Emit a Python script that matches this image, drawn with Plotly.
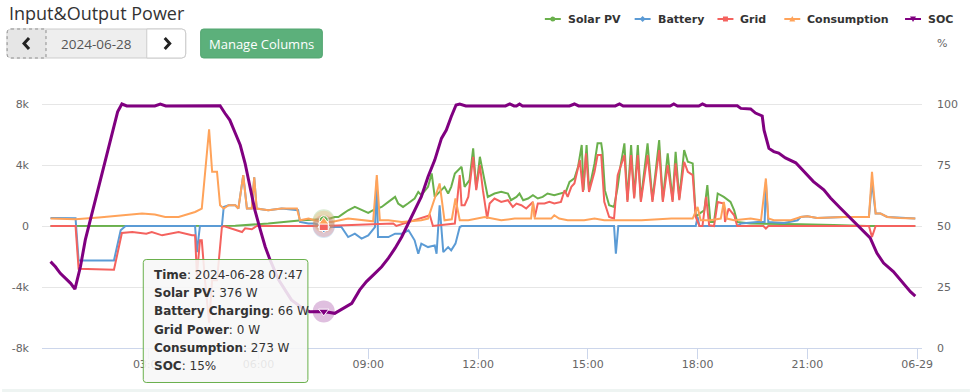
import numpy as np
import pandas as pd
import plotly.graph_objects as go

DATE = "2024-06-28"
TITLE = "Input&Output Power"
BUTTON_TEXT = "Manage Columns"

# ---- data (minutes after midnight, values) ----
SOLAR_MIN = [19, 300, 322, 376, 431, 458, 467, 485, 491, 499, 507, 518, 529, 540, 548, 562, 573, 584, 589, 597,
             605, 616, 622, 627, 638, 644, 649, 655, 665, 671, 676, 682, 693, 698, 706, 712, 717, 723, 730, 736,
             747, 758, 769, 774, 783, 788, 794, 802, 810, 818, 826, 834, 845, 856, 864, 870, 878, 884, 890, 893,
             898, 902, 911, 916, 922, 924, 928, 935, 943, 949, 953, 960, 965, 971, 976, 982, 987, 998, 1006, 1017,
             1023, 1031, 1039, 1044, 1050, 1058, 1064, 1072, 1077, 1083, 1091, 1096, 1101, 1107, 1113, 1123, 1134,
             1140, 1145, 1167, 1222, 1249, 1303, 1358, 1437]
SOLAR_W = [0, 0, 20, 158, 375, 420, 376, 592, 592, 816, 1033, 1250, 1033, 855, 1033, 1250, 1579, 1908, 1474, 1250,
           1474, 1803, 2237, 2020, 2566, 3448, 1908, 2132, 2566, 2132, 2566, 3448, 3882, 2566, 3007, 5093, 2461, 4540, 3224, 1908,
           2132, 2237, 2132, 1691, 1908, 2132, 1691, 1803, 2020, 1803, 1908, 2132, 2020, 2132, 2237, 2895, 3119, 3882, 5310, 2349,
           5310, 2349, 4106, 5422, 5422, 4869, 2349, 1362, 1250, 2566, 3777, 5422, 1691, 5310, 1908, 5310, 1691, 5422, 1691, 5639,
           1691, 4764, 1691, 4869, 1803, 4981, 4211, 4106, 592, 816, 1033, 2678, 263, 263, 2132, 1908, 1579,
           1033, 263, 158, 158, 112, 66, 0, 0]

BATTERY_MIN = [19, 60, 65, 123, 134, 142, 256, 259, 264, 300, 303, 311, 322, 327, 335, 341, 349, 353, 357, 376,
               398, 425, 428, 442, 452, 467, 480, 496, 507, 518, 529, 540, 551, 554, 556, 573, 584, 595, 606, 616,
               622, 627, 638, 649, 652, 657, 663, 671, 676, 683, 690, 693, 943, 946, 950, 1077, 1080, 1083, 1145, 1151,
               1178, 1190, 1192, 1196, 1222, 1244, 1249, 1260, 1276, 1320, 1361, 1366, 1372, 1380, 1391, 1412, 1437]
BATTERY_W = [526, 507, -2257, -2257, -283, 0, 0, -1711, 0, 0, 1250, 1362, 1362, 1145, 3336, 1145, 1145, 3185, 1145, 1033,
             1145, 1033, 263, 158, 158, -66, -66, -66, -724, -500, -829, -612, -66, 3000, -724, -724, -500, -500, -283, -941,
             -1816, -1158, -1382, -1270, -1816, 1362, -1711, -1382, -1599, -1158, -66, 0, 0, -1816, 0, 0, 592, 0, 0, 158,
             263, 263, 2900, 263, 197, 375, 592, 638, 526, 592, 592, 2900, 816, 816, 592, 526, 487]

GRID_MIN = [19, 60, 65, 123, 136, 153, 176, 185, 202, 229, 251, 256, 259, 264, 267, 272, 279, 284, 292, 300,
            303, 333, 338, 349, 357, 467, 581, 586, 641, 646, 682, 690, 693, 698, 704, 712, 717, 723, 728, 735,
            739, 747, 758, 769, 777, 783, 791, 799, 810, 813, 818, 829, 837, 845, 856, 862, 867, 873, 878, 887,
            892, 897, 902, 911, 916, 922, 927, 935, 943, 949, 960, 965, 971, 976, 982, 987, 998, 1006, 1017, 1023,
            1031, 1039, 1044, 1050, 1058, 1064, 1072, 1077, 1083, 1088, 1094, 1099, 1107, 1113, 1123, 1125, 1131,
            1140, 1145, 1188, 1192, 1196, 1361, 1366, 1372, 1437]
GRID_W = [0, 0, -2803, -2869, -460, -395, -500, -395, -612, -395, -612, -612, -3244, -941, -941, -3448, -6337, -3553, -3553, -66,
          0, -395, -150, -217, 0, 0, 158, 0, 704, 0, 158, 3336, 1362, 1362, 1908, 4540, 2349, 3994, 2349, 487,
          1474, 1803, 1579, 1691, 1250, 1474, 1362, 1145, 1579, 592, 1474, 1474, 1579, 1474, 1579, 2349, 1908, 2566, 2790, 4323,
          2237, 4764, 2237, 3553, 4652, 4652, 1579, 592, 487, 3336, 4652, 1579, 4652, 1803, 4652, 1579, 4652, 1579, 4981, 1579,
          3994, 1579, 4106, 1691, 4211, 3553, 3336, 592, 0, 0, 1908, 46, 0, 1579, 1474, 263, 1145,
          704, 0, 0, -171, 0, 0, -724, 0, 0]

CONS_MIN = [19, 60, 98, 141, 169, 190, 207, 229, 256, 267, 272, 279, 284, 292, 297, 303, 311, 322, 327, 335,
            341, 349, 353, 357, 376, 398, 423, 428, 442, 452, 467, 480, 507, 534, 548, 554, 559, 573, 595, 627,
            638, 657, 665, 677, 683, 690, 704, 731, 758, 780, 807, 810, 813, 840, 845, 853, 867, 894, 911, 927,
            943, 988, 1037, 1072, 1080, 1085, 1101, 1118, 1123, 1128, 1140, 1167, 1184, 1192, 1196, 1205, 1233, 1249,
            1260, 1276, 1320, 1361, 1366, 1372, 1380, 1391, 1412, 1437]
CONS_W = [487, 441, 553, 704, 816, 750, 592, 592, 921, 1145, 3448, 6343, 3553, 3553, 1362, 1145, 1362, 1362, 1145, 3336,
          1145, 1145, 3185, 1145, 1033, 1145, 1145, 375, 487, 375, 273, 263, 487, 375, 309, 3336, 375, 375, 263, 375,
          487, 2790, 375, 441, 1803, 375, 375, 592, 375, 487, 487, 1579, 487, 487, 704, 487, 375, 375, 487, 375,
          375, 375, 487, 487, 1250, 375, 375, 487, 1579, 487, 375, 487, 375, 3119, 487, 375, 375, 592,
          638, 526, 592, 592, 3553, 816, 816, 592, 526, 487]

SOC_MIN = [19, 27, 35, 44, 52, 59, 68, 76, 87, 98, 109, 120, 129, 136, 144, 190, 199, 208, 297, 305,
           313, 322, 330, 338, 346, 354, 363, 371, 379, 393, 414, 436, 444, 453, 467, 485, 499, 513, 526, 537,
           551, 562, 573, 584, 595, 606, 616, 627, 638, 649, 660, 668, 676, 684, 690, 700, 765, 772, 779, 783,
           788, 793, 870, 878, 885, 945, 952, 958, 1035, 1041, 1047, 1082, 1088, 1094, 1145, 1151, 1167, 1175, 1186, 1189,
           1197, 1205, 1213, 1224, 1241, 1249, 1260, 1270, 1287, 1298, 1314, 1327, 1342, 1363, 1374, 1385, 1401, 1417,
           1429, 1437]
SOC_PCT = [35.4, 33.3, 30.6, 28.6, 26.5, 24.1, 33.3, 44.3, 55.2, 66.1, 77.0, 88.0, 96.8, 100, 99.2, 99.2, 100, 99.2, 99.3, 96.2,
           93.4, 88.0, 83.2, 75.7, 66.1, 56.6, 48.4, 41.5, 36.1, 27.9, 19.7, 15.6, 14.9, 15.0, 15.0, 14.2, 16.3, 18.3, 23.8, 27.2,
           30.6, 33.3, 36.8, 40.9, 45.6, 51.1, 56.6, 62.0, 70.2, 77.0, 85.9, 89.3, 94.8, 99.6, 100, 99.2, 99.2, 100, 99.2, 99.2,
           100, 99.2, 99.2, 100, 99.2, 99.2, 100, 99.2, 99.2, 100, 99.2, 99.2, 100, 99.3, 99.3, 98.2, 98.0, 96.3, 95.1, 89.3,
           81.8, 80.5, 79.9, 77.9, 75.9, 73.8, 70.5, 68.2, 64.8, 61.5, 57.4, 54.1, 50.4, 45.1, 38.9, 34.8, 31.3, 26.6,
           23.1, 21.3]

SERIES_NAMES = ["Solar PV", "Battery", "Grid", "Consumption", "SOC"]
COLORS = ["#6ab04c", "#5b9bd5", "#f4625e", "#ffa35a", "#800080"]
SYMBOLS = ["circle", "diamond", "square", "triangle-up", "triangle-down"]

X_RANGE_MIN = [5, 1448]
X_TICK_MIN = [180, 360, 540, 720, 900, 1080, 1260, 1440]
X_TICK_TEXT = ["03:00", "06:00", "09:00", "12:00", "15:00", "18:00", "21:00", "06-29"]
Y_TICKS = [-8000, -4000, 0, 4000, 8000, 12000]
Y_TICK_TEXT = ["-8k", "-4k", "0", "4k", "8k", ""]
Y2_TICKS = [0, 25, 50, 75, 100, 125]
Y2_TICK_TEXT = ["0", "25", "50", "75", "100", "%"]

HOVER_MIN = 467

base = pd.Timestamp(DATE)


def t(mins):
    return [base + pd.Timedelta(minutes=float(m)) for m in mins]


# ---- pixel layout helpers (layout only) ----
W, H = 970, 392
PL, PR, PT, PB = 40, 922, 43, 348


def px(x):
    return (x - PL) / (PR - PL)


def py(y):
    return (PB - y) / (PB - PT)


def P(x, y):
    return f"{px(x):.5f},{py(y):.5f}"


def rpath(x0, y0, x1, y1, rl, rr):
    return (f"M{P(x0 + rl, y0)} L{P(x1 - rr, y0)} Q{P(x1, y0)} {P(x1, y0 + rr)} "
            f"L{P(x1, y1 - rr)} Q{P(x1, y1)} {P(x1 - rr, y1)} L{P(x0 + rl, y1)} "
            f"Q{P(x0, y1)} {P(x0, y1 - rl)} L{P(x0, y0 + rl)} Q{P(x0, y0)} {P(x0 + rl, y0)} Z")


fig = go.Figure()

series = [(SOLAR_MIN, SOLAR_W), (BATTERY_MIN, BATTERY_W), (GRID_MIN, GRID_W), (CONS_MIN, CONS_W)]
for (mins, vals), name, col in zip(series, SERIES_NAMES[:4], COLORS[:4]):
    fig.add_trace(go.Scatter(x=t(mins), y=vals, mode="lines", name=name,
                             line=dict(color=col, width=2), hoverinfo="skip"))
fig.add_trace(go.Scatter(x=t(SOC_MIN), y=SOC_PCT, mode="lines", name="SOC", yaxis="y2",
                         line=dict(color=COLORS[4], width=3), hoverinfo="skip"))

# hovered point values
hv = [float(np.interp(HOVER_MIN, m, v)) for m, v in series]
hsoc = float(np.interp(HOVER_MIN, SOC_MIN, SOC_PCT))
ht = t([HOVER_MIN])
for v, col in zip(hv, COLORS[:4]):
    fig.add_trace(go.Scatter(x=ht, y=[v], mode="markers", showlegend=False, hoverinfo="skip",
                             marker=dict(size=22, color=col, opacity=0.25, line=dict(width=0))))
fig.add_trace(go.Scatter(x=ht, y=[hsoc], yaxis="y2", mode="markers", showlegend=False, hoverinfo="skip",
                         marker=dict(size=22, color=COLORS[4], opacity=0.25, line=dict(width=0))))
for v, col, sym in zip(hv, COLORS[:4], SYMBOLS[:4]):
    fig.add_trace(go.Scatter(x=ht, y=[v], mode="markers", showlegend=False, hoverinfo="skip",
                             marker=dict(size=9, color=col, symbol=sym, line=dict(width=1, color="white"))))
fig.add_trace(go.Scatter(x=ht, y=[hsoc], yaxis="y2", mode="markers", showlegend=False, hoverinfo="skip",
                         marker=dict(size=9, color=COLORS[4], symbol=SYMBOLS[4], line=dict(width=1, color="white"))))

shapes = []
annotations = []
FONT = "DejaVu Sans"

# title
annotations.append(dict(x=px(5), y=py(13), xref="paper", yref="paper", xanchor="left", yanchor="middle",
                        text=TITLE, showarrow=False, font=dict(family="Open Sans", size=18, color="#333")))

# date picker
shapes.append(dict(type="path", path=rpath(5, 29, 184, 58, 4, 4), xref="paper", yref="paper",
                   fillcolor="#eeeeee", line=dict(color="#cccccc", width=1), layer="above"))
shapes.append(dict(type="path", path=rpath(5, 29, 44, 58, 4, 0), xref="paper", yref="paper",
                   fillcolor="#e6e6e6", line=dict(color="#8c8c8c", width=1, dash="dot"), layer="above"))
shapes.append(dict(type="path", path=rpath(145, 29, 184, 58, 0, 4), xref="paper", yref="paper",
                   fillcolor="#ffffff", line=dict(color="#cccccc", width=1), layer="above"))
shapes.append(dict(type="path", path=f"M{P(27, 38)} L{P(22, 43.5)} L{P(27, 49)}", xref="paper", yref="paper",
                   line=dict(color="#222", width=3), layer="above"))
shapes.append(dict(type="path", path=f"M{P(163, 38)} L{P(168, 43.5)} L{P(163, 49)}", xref="paper", yref="paper",
                   line=dict(color="#222", width=3), layer="above"))
annotations.append(dict(x=px(94.5), y=py(44), xref="paper", yref="paper", xanchor="center", yanchor="middle",
                        text=DATE, showarrow=False, font=dict(family="Open Sans", size=13.5, color="#555")))
# manage columns button
shapes.append(dict(type="path", path=rpath(199, 29, 321, 58, 3, 3), xref="paper", yref="paper",
                   fillcolor="#5cb07b", line=dict(color="#52a570", width=1), layer="above"))
annotations.append(dict(x=px(260), y=py(44), xref="paper", yref="paper", xanchor="center", yanchor="middle",
                        text=BUTTON_TEXT, showarrow=False, font=dict(family="Open Sans", size=13, color="white")))

# legend
LEG_X = [544, 634, 717, 784, 905]
LEG_Y = 19
for name, col, sym, lx in zip(SERIES_NAMES, COLORS, SYMBOLS, LEG_X):
    shapes.append(dict(type="line", x0=px(lx), x1=px(lx + 16), y0=py(LEG_Y), y1=py(LEG_Y), xref="paper",
                       yref="paper", line=dict(color=col, width=2), layer="above"))
    cx = lx + 8
    r = 2.5
    if sym == "circle":
        shapes.append(dict(type="circle", x0=px(cx - r), x1=px(cx + r), y0=py(LEG_Y - r), y1=py(LEG_Y + r),
                           xref="paper", yref="paper", fillcolor=col, line=dict(width=0), layer="above"))
    elif sym == "square":
        shapes.append(dict(type="rect", x0=px(cx - r), x1=px(cx + r), y0=py(LEG_Y - r), y1=py(LEG_Y + r),
                           xref="paper", yref="paper", fillcolor=col, line=dict(width=0), layer="above"))
    elif sym == "diamond":
        shapes.append(dict(type="path", path=f"M{P(cx, LEG_Y - 3)} L{P(cx + 3, LEG_Y)} L{P(cx, LEG_Y + 3)} L{P(cx - 3, LEG_Y)} Z",
                           xref="paper", yref="paper", fillcolor=col, line=dict(width=0), layer="above"))
    elif sym == "triangle-up":
        shapes.append(dict(type="path", path=f"M{P(cx, LEG_Y - 3)} L{P(cx + 3, LEG_Y + 2.5)} L{P(cx - 3, LEG_Y + 2.5)} Z",
                           xref="paper", yref="paper", fillcolor=col, line=dict(width=0), layer="above"))
    else:
        shapes.append(dict(type="path", path=f"M{P(cx, LEG_Y + 3)} L{P(cx + 3, LEG_Y - 2.5)} L{P(cx - 3, LEG_Y - 2.5)} Z",
                           xref="paper", yref="paper", fillcolor=col, line=dict(width=0), layer="above"))
    annotations.append(dict(x=px(lx + 21), y=py(LEG_Y), xref="paper", yref="paper", xanchor="left",
                            yanchor="middle", text=f"<b>{name}</b>", showarrow=False,
                            font=dict(family=FONT, size=11, color="#333")))

# tooltip
shapes.append(dict(type="path", path=rpath(141.5, 259.5, 306.5, 382.5, 3, 3), xref="paper", yref="paper",
                   fillcolor="rgba(247,247,247,0.88)", line=dict(color=COLORS[0], width=1), layer="above"))
bat = hv[1]
tip_lines = [
    ("Time", f"{DATE} {HOVER_MIN // 60:02d}:{HOVER_MIN % 60:02d}"),
    (SERIES_NAMES[0], f"{hv[0]:.0f} W"),
    ("Battery Charging" if bat < 0 else "Battery Discharging", f"{abs(bat):.0f} W"),
    ("Grid Power", f"{abs(hv[2]):.0f} W"),
    (SERIES_NAMES[3], f"{hv[3]:.0f} W"),
    (SERIES_NAMES[4], f"{hsoc:.0f}%"),
]
for i, (k, v) in enumerate(tip_lines):
    annotations.append(dict(x=px(150), y=py(275 + 18.2 * i), xref="paper", yref="paper", xanchor="left",
                            yanchor="middle", text=f"<b>{k}</b>: {v}", showarrow=False,
                            font=dict(family=FONT, size=12, color="#333")))

# bottom strip
shapes.append(dict(type="rect", x0=px(0), x1=px(W), y0=py(389), y1=py(392), xref="paper", yref="paper",
                   fillcolor="#eef4f2", line=dict(width=0), layer="above"))

fig.update_layout(
    width=W, height=H,
    margin=dict(l=PL, r=W - PR, t=PT, b=H - PB, pad=0),
    paper_bgcolor="white", plot_bgcolor="white",
    showlegend=False,
    font=dict(family=FONT, size=11, color="#666"),
    xaxis=dict(type="date", range=t(X_RANGE_MIN), tickvals=t(X_TICK_MIN), ticktext=X_TICK_TEXT,
               showgrid=False, showline=True, linecolor="#ccd6eb", linewidth=1, ticks="outside",
               ticklen=10, tickcolor="#ccd6eb", zeroline=False, ticklabelstandoff=-4,
               tickfont=dict(size=11, color="#666")),
    yaxis=dict(range=[-8000, 12000], tickvals=Y_TICKS, ticktext=Y_TICK_TEXT, showgrid=True,
               gridcolor="#e6e6e6", zeroline=False, showline=False, ticks="", ticklabelstandoff=12,
               tickfont=dict(size=11, color="#666")),
    yaxis2=dict(range=[0, 125], tickvals=Y2_TICKS, ticktext=Y2_TICK_TEXT, overlaying="y", side="right",
                showgrid=False, zeroline=False, showline=False, ticks="", ticklabelstandoff=14,
                tickfont=dict(size=11, color="#666")),
    shapes=shapes, annotations=annotations,
)

fig.write_html("out.html", config={"displayModeBar": False},
               post_script="document.body.style.margin='0';document.body.style.overflow='hidden';")
